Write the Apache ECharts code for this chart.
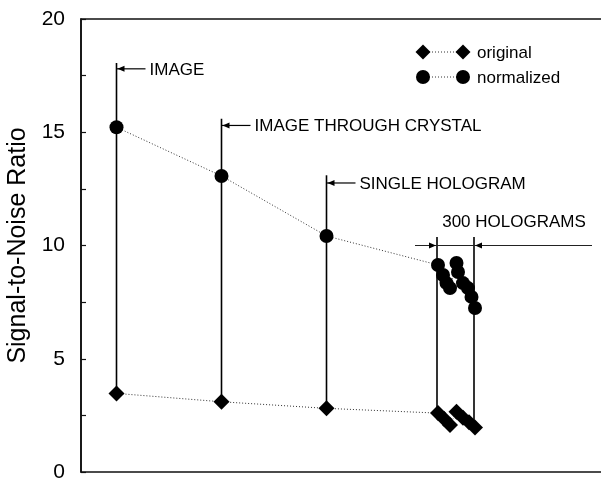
<!DOCTYPE html>
<html>
<head>
<meta charset="utf-8">
<script src="https://cdn.jsdelivr.net/npm/echarts@6/dist/echarts.min.js"></script>
<style>
  html, body { margin: 0; padding: 0; background: #fff; }
  #main { width: 601px; height: 483px; }
</style>
</head>
<body>
<div id="main"></div>
<script>
// x is a plain position along the experiment (hidden axis)
var originalX = [7.1, 28.1, 49.1, 71.4, 72.6, 73.8, 75.1, 76.4, 77.6, 78.8];
var originalY = [3.47, 3.10, 2.81, 2.60, 2.35, 2.08, 2.66, 2.40, 2.20, 1.97];
var normalizedX = [7.1, 28.1, 49.1, 71.4, 72.4, 73.1, 73.8, 75.1, 75.4, 76.4, 77.4, 78.1, 78.8];
var normalizedY = [15.22, 13.07, 10.42, 9.14, 8.70, 8.34, 8.12, 9.23, 8.83, 8.34, 8.12, 7.73, 7.24];

// stage markers: vertical line from the original point up to top, arrow + label
var stageX = [7.1, 28.1, 49.1];
var stageBottom = [3.47, 3.10, 2.81];
var stageTop = [18.06, 15.6, 13.1];
var stageArrowY = [17.8, 15.3, 12.76];
var stageLabels = ['IMAGE', 'IMAGE THROUGH CRYSTAL', 'SINGLE HOLOGRAM'];

// 300 holograms bracket
var holoX = [71.2, 78.6];
var holoBottom = [2.60, 1.97];
var holoTop = 10.37;
var holoLine = [66.8, 102.2, 10.0];
var holoLabel = ['300 HOLOGRAMS', 86.6, 11.04];

var yTicks = [0, 5, 10, 15, 20];
var seriesNames = ['original', 'normalized'];

function pairs(xs, ys) {
  var out = [];
  for (var i = 0; i < xs.length; i++) out.push([xs[i], ys[i]]);
  return out;
}

var stageData = [];
for (var i = 0; i < stageX.length; i++) {
  stageData.push([stageX[i], stageBottom[i], stageTop[i], stageArrowY[i], stageLabels[i]]);
}

var FONT = '17px "Liberation Sans", Arial, sans-serif';

function renderStage(params, api) {
  var pb = api.coord([api.value(0), api.value(1)]);
  var pt = api.coord([api.value(0), api.value(2)]);
  var pa = api.coord([api.value(0), api.value(3)]);
  var label = stageData[params.dataIndex][4];
  return {
    type: 'group',
    children: [
      { type: 'line', shape: { x1: pb[0], y1: pb[1], x2: pt[0], y2: pt[1] },
        style: { stroke: '#000', lineWidth: 1.6 } },
      { type: 'line', shape: { x1: pa[0], y1: pa[1], x2: pa[0] + 29, y2: pa[1] },
        style: { stroke: '#000', lineWidth: 1.2 } },
      { type: 'polygon', shape: { points: [[pa[0] + 1, pa[1]], [pa[0] + 8, pa[1] - 3], [pa[0] + 8, pa[1] + 3]] },
        style: { fill: '#000' } },
      { type: 'text', style: { text: label, x: pa[0] + 33, y: pa[1] + 1, verticalAlign: 'middle',
        font: FONT, fill: '#000' } }
    ]
  };
}

function renderHolo(params, api) {
  var l0 = api.coord([holoX[0], holoBottom[0]]);
  var l1 = api.coord([holoX[0], holoTop]);
  var r0 = api.coord([holoX[1], holoBottom[1]]);
  var r1 = api.coord([holoX[1], holoTop]);
  var h0 = api.coord([holoLine[0], holoLine[2]]);
  var h1 = api.coord([holoLine[1], holoLine[2]]);
  var lab = api.coord([holoLabel[1], holoLabel[2]]);
  var y = h0[1];
  return {
    type: 'group',
    children: [
      { type: 'line', shape: { x1: l0[0], y1: l0[1], x2: l1[0], y2: l1[1] }, style: { stroke: '#000', lineWidth: 1.6 } },
      { type: 'line', shape: { x1: r0[0], y1: r0[1], x2: r1[0], y2: r1[1] }, style: { stroke: '#000', lineWidth: 1.6 } },
      { type: 'line', shape: { x1: h0[0], y1: y, x2: h1[0], y2: y }, style: { stroke: '#222', lineWidth: 1.2 } },
      { type: 'polygon', shape: { points: [[l0[0] - 1, y], [l0[0] - 8, y - 3], [l0[0] - 8, y + 3]] }, style: { fill: '#000' } },
      { type: 'polygon', shape: { points: [[r0[0] + 1, y], [r0[0] + 8, y - 3], [r0[0] + 8, y + 3]] }, style: { fill: '#000' } },
      { type: 'text', style: { text: holoLabel[0], x: lab[0], y: lab[1], align: 'center', verticalAlign: 'middle',
        font: FONT, fill: '#000' } }
    ]
  };
}

var dom = document.getElementById('main');
var myChart = echarts.init(dom, null, { renderer: 'canvas' });

var option = {
  animation: false,
  backgroundColor: '#fff',
  grid: {
    left: 81, top: 19, right: -3, bottom: 11,
    outerBoundsMode: 'none',
    containLabel: false,
    show: true, borderColor: '#111', borderWidth: 1.6
  },
  xAxis: {
    type: 'value', min: 0, max: 104.6,
    axisLine: { show: false }, axisTick: { show: false },
    axisLabel: { show: false }, splitLine: { show: false }
  },
  yAxis: {
    type: 'value', min: 0, max: 20, interval: 5,
    name: 'Signal-to-Noise Ratio',
    nameLocation: 'middle',
    nameGap: 47,
    nameTextStyle: { fontSize: 25, fontFamily: 'Liberation Sans', color: '#000' },
    axisLine: { show: true, lineStyle: { color: '#111', width: 1.6 } },
    axisTick: { show: true, inside: true, length: 5, lineStyle: { color: '#111', width: 1.2 } },
    minorTick: { show: true, splitNumber: 2, length: 5, lineStyle: { color: '#111', width: 1.2 } },
    axisLabel: {
      margin: 16, fontSize: 21, fontFamily: 'Liberation Sans', color: '#000',
      formatter: function (v) { return yTicks.indexOf(v) >= 0 ? String(v) : ''; }
    },
    splitLine: { show: false }
  },
  graphic: [
    { type: 'line', shape: { x1: 423, y1: 52, x2: 463, y2: 52 }, style: { stroke: '#333', lineWidth: 1, lineDash: [1, 2] } },
    { type: 'polygon', shape: { points: [[423, 44.5], [430.5, 52], [423, 59.5], [415.5, 52]] }, style: { fill: '#000' } },
    { type: 'polygon', shape: { points: [[463, 44.5], [470.5, 52], [463, 59.5], [455.5, 52]] }, style: { fill: '#000' } },
    { type: 'text', style: { text: seriesNames[0], x: 477, y: 53, verticalAlign: 'middle', font: FONT, fill: '#000' } },
    { type: 'line', shape: { x1: 423, y1: 77, x2: 463, y2: 77 }, style: { stroke: '#333', lineWidth: 1, lineDash: [1, 2] } },
    { type: 'circle', shape: { cx: 423, cy: 77, r: 7 }, style: { fill: '#000' } },
    { type: 'circle', shape: { cx: 463, cy: 77, r: 7 }, style: { fill: '#000' } },
    { type: 'text', style: { text: seriesNames[1], x: 477, y: 78, verticalAlign: 'middle', font: FONT, fill: '#000' } }
  ],
  series: [
    {
      type: 'custom', name: 'stages', renderItem: renderStage, data: stageData,
      silent: true, z: 1
    },
    {
      type: 'custom', name: 'holograms', renderItem: renderHolo, data: [[holoX[0], holoTop]],
      silent: true, z: 1
    },
    {
      name: seriesNames[0], type: 'line', data: pairs(originalX, originalY),
      symbol: 'diamond', symbolSize: [16, 16],
      itemStyle: { color: '#000' },
      lineStyle: { color: '#333', width: 1, type: [1, 2] },
      z: 3
    },
    {
      name: seriesNames[1], type: 'line', data: pairs(normalizedX, normalizedY),
      symbol: 'circle', symbolSize: 14,
      itemStyle: { color: '#000' },
      lineStyle: { color: '#333', width: 1, type: [1, 2] },
      z: 3
    }
  ]
};
myChart.setOption(option);
</script>
</body>
</html>
